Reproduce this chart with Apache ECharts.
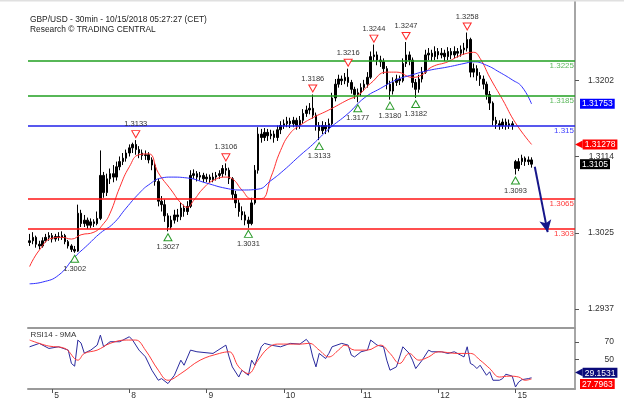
<!DOCTYPE html>
<html><head><meta charset="utf-8">
<script src="https://cdn.jsdelivr.net/npm/echarts@6/dist/echarts.min.js"></script>
<style>html,body{margin:0;padding:0;background:#fff}#c{width:624px;height:417px}</style>
</head><body><div id="c"></div>
<script>
// ---- data (hourly bars, index 0 = Oct 4 17:00) ----
const slotCount = 170;
const dayTickIndex = [7, 31, 55, 79, 103, 127, 151];
const dayLabels = ['5', '8', '9', '10', '11', '12', '15'];
const firstOpen = 1.3014;
const gapIndex = 151;
const gapOpen = 1.3108;
const closes = [
1.3016,1.3020,1.3012,1.3010,1.3016,1.3020,1.3022,1.3018,1.3021,1.3020,
1.3022,1.3015,1.3010,1.3006,1.3004,1.3048,1.3036,1.3040,1.3034,1.3038,
1.3036,1.3042,1.3092,1.3072,1.3088,1.3094,1.3090,1.3102,1.3108,1.3112,
1.3118,1.3124,1.3128,1.3122,1.3118,1.3115,1.3116,1.3110,1.3104,1.3085,
1.3062,1.3058,1.3045,1.3032,1.3040,1.3046,1.3044,1.3054,1.3050,1.3056,
1.3092,1.3094,1.3090,1.3092,1.3088,1.3090,1.3087,1.3090,1.3092,1.3094,
1.3100,1.3098,1.3088,1.3070,1.3060,1.3050,1.3046,1.3040,1.3036,1.3060,
1.3098,1.3140,1.3136,1.3142,1.3138,1.3140,1.3136,1.3145,1.3150,1.3152,
1.3155,1.3152,1.3156,1.3150,1.3156,1.3164,1.3168,1.3170,1.3162,1.3150,
1.3144,1.3150,1.3146,1.3152,1.3182,1.3198,1.3204,1.3202,1.3206,1.3200,
1.3192,1.3186,1.3188,1.3194,1.3198,1.3206,1.3230,1.3232,1.3226,1.3224,
1.3216,1.3198,1.3190,1.3200,1.3204,1.3202,1.3222,1.3232,1.3226,1.3200,
1.3192,1.3204,1.3212,1.3232,1.3234,1.3230,1.3236,1.3232,1.3234,1.3230,
1.3236,1.3232,1.3236,1.3234,1.3238,1.3240,1.3250,1.3212,1.3216,1.3208,
1.3204,1.3198,1.3186,1.3176,1.3156,1.3152,1.3150,1.3154,1.3150,1.3152,
1.3150,1.3100,1.3108,1.3112,1.3108,1.3110,1.3105];
const highs = [
1.3024,1.3026,1.3022,1.3016,1.3020,1.3024,1.3026,1.3025,1.3024,1.3026,
1.3027,1.3024,1.3017,1.3012,1.3010,1.3058,1.3052,1.3046,1.3043,1.3042,
1.3041,1.3050,1.3121,1.3096,1.3094,1.3100,1.3104,1.3108,1.3114,1.3118,
1.3122,1.3128,1.3130,1.3133,1.3126,1.3122,1.3121,1.3119,1.3113,1.3107,
1.3088,1.3068,1.3064,1.3048,1.3045,1.3052,1.3053,1.3060,1.3058,1.3062,
1.3098,1.3099,1.3097,1.3096,1.3095,1.3094,1.3093,1.3095,1.3096,1.3098,
1.3104,1.3106,1.3101,1.3090,1.3074,1.3064,1.3056,1.3050,1.3044,1.3066,
1.3104,1.3148,1.3146,1.3147,1.3146,1.3145,1.3144,1.3150,1.3155,1.3157,
1.3160,1.3159,1.3160,1.3159,1.3161,1.3169,1.3173,1.3176,1.3186,1.3165,
1.3154,1.3155,1.3154,1.3158,1.3188,1.3204,1.3209,1.3208,1.3211,1.3216,
1.3203,1.3195,1.3193,1.3199,1.3203,1.3212,1.3236,1.3244,1.3236,1.3231,
1.3228,1.3219,1.3202,1.3206,1.3209,1.3208,1.3228,1.3247,1.3236,1.3229,
1.3204,1.3209,1.3218,1.3238,1.3240,1.3238,1.3242,1.3240,1.3240,1.3238,
1.3241,1.3240,1.3242,1.3240,1.3243,1.3246,1.3258,1.3252,1.3222,1.3220,
1.3212,1.3208,1.3201,1.3190,1.3178,1.3160,1.3156,1.3158,1.3158,1.3157,
1.3155,1.3110,1.3112,1.3116,1.3114,1.3114,1.3113];
const lows = [
1.3010,1.3012,1.3008,1.3006,1.3008,1.3014,1.3016,1.3014,1.3015,1.3016,
1.3017,1.3012,1.3007,1.3003,1.3002,1.3003,1.3032,1.3032,1.3030,1.3031,
1.3032,1.3034,1.3040,1.3066,1.3068,1.3082,1.3084,1.3086,1.3098,1.3104,
1.3108,1.3114,1.3118,1.3116,1.3112,1.3110,1.3110,1.3106,1.3098,1.3080,
1.3056,1.3050,1.3038,1.3027,1.3029,1.3036,1.3038,1.3040,1.3044,1.3046,
1.3054,1.3088,1.3085,1.3086,1.3084,1.3084,1.3083,1.3084,1.3086,1.3088,
1.3090,1.3092,1.3082,1.3064,1.3054,1.3044,1.3040,1.3034,1.3031,1.3034,
1.3058,1.3094,1.3130,1.3132,1.3132,1.3134,1.3130,1.3132,1.3140,1.3146,
1.3148,1.3147,1.3148,1.3145,1.3146,1.3152,1.3160,1.3163,1.3158,1.3144,
1.3133,1.3140,1.3140,1.3142,1.3150,1.3178,1.3194,1.3197,1.3198,1.3195,
1.3187,1.3181,1.3177,1.3184,1.3190,1.3194,1.3204,1.3225,1.3220,1.3218,
1.3210,1.3192,1.3180,1.3186,1.3196,1.3197,1.3200,1.3218,1.3220,1.3194,
1.3182,1.3188,1.3200,1.3210,1.3226,1.3225,1.3226,1.3227,1.3228,1.3225,
1.3226,1.3227,1.3228,1.3229,1.3230,1.3232,1.3236,1.3206,1.3206,1.3202,
1.3196,1.3192,1.3180,1.3168,1.3150,1.3146,1.3145,1.3146,1.3145,1.3146,
1.3145,1.3093,1.3097,1.3104,1.3103,1.3104,1.3101];

const redMaIdx = [0,3,7,10,13,16,20,23,25,28,31,34,37,40,44,47,49,51,54,57,61,63,66,69,72,75,78,81,84,88,93,99,102,106,111,114,119,122,125,130,133,136,138,140,143,147,151,156];
const redMaVal = [1.2986,1.3005,1.3019,1.3020,1.3018,1.3023,1.3026,1.3036,1.3048,1.3078,1.3102,1.3116,1.3117,1.3095,1.3075,1.3060,1.3055,1.3063,1.3077,1.3086,1.3090,1.3088,1.3075,1.3065,1.3065,1.3090,1.3121,1.3141,1.3150,1.3159,1.3168,1.3180,1.3185,1.3199,1.3212,1.3212,1.3206,1.3209,1.3218,1.3224,1.3230,1.3234,1.3235,1.3228,1.3206,1.3180,1.3153,1.3128];
const blueMaIdx = [0,4,9,14,18,22,26,30,34,37,41,44,49,55,61,66,71,75,79,84,88,93,99,104,109,114,119,124,130,135,138,142,146,150,153,156];
const blueMaVal = [1.2966,1.2968,1.2976,1.2997,1.3011,1.3025,1.3036,1.3054,1.3071,1.3081,1.3089,1.3090,1.3089,1.3083,1.3077,1.3075,1.3076,1.3086,1.3098,1.3115,1.3128,1.3146,1.3164,1.3182,1.3193,1.3203,1.3209,1.3214,1.3218,1.3222,1.3224,1.3220,1.3212,1.3203,1.3195,1.3175];

const rsiIdx = [0,3,6,9,12,13,14,15,16,17,19,21,22,23,25,28,31,32,34,36,38,40,41,43,45,47,48,50,52,57,61,62,63,65,66,68,69,70,72,73,75,78,81,84,86,87,88,89,90,92,93,94,97,99,100,101,103,105,106,108,110,111,112,114,115,116,118,119,120,122,124,125,128,130,132,134,135,136,137,138,139,140,142,143,144,146,147,148,150,151,152,153,155,156];
const rsiVal = [64.6,68.5,62.7,64.6,60.8,45.5,42.4,72.3,68.8,57.3,60.8,66.5,78,64.6,70.4,70.4,76.1,72.3,60.8,53.1,37.8,26.3,28.2,22.5,32,49.3,43.5,60.8,58.9,57,66.5,53,41.6,30,37.8,32,49.3,43.5,64.6,68.5,66.5,64.6,68.5,67.7,73.1,68.5,53,41.6,57,51.2,57,64.6,68.5,66.5,55,53,58.9,60.8,72.3,66.5,64.6,49.3,37.8,41.6,53,64.6,57,49.3,39.7,49.3,60.8,58.9,58.9,57,58.9,55,53,64.6,45.5,43.5,39.7,43.5,32,36,26.3,26.3,28.2,33.2,31,18.6,24.3,27,28.2,29.15];
const rsiMaIdx = [0,3,6,11,15,17,21,25,30,33,36,40,43,47,53,59,62,65,68,71,74,77,84,87,90,93,96,98,101,105,109,112,115,118,121,124,127,133,137,140,143,146,149,152,154,156];
const rsiMaVal = [72.3,68.5,65.4,62.7,49.3,57,60.8,68.5,72.3,72.3,60.8,37.8,26.3,34,49.3,57,58.9,41.6,34,49.3,62.7,67.7,67.7,68.5,60.8,53,60.8,66.5,60.8,60.8,66.5,57,45.5,57,49.3,53,58.9,57,57,49.3,39.7,30,31,30,26.3,27.8];

const priceTicks = [1.2937, 1.3025, 1.3114, 1.3202];
const rsiTicks = [50, 70];
const greenLevels = [1.3225, 1.3185];
const blueLevels = [1.315];
const redLevels = [1.3065, 1.303];
const pivotHighIdx = [33, 61, 88, 99, 107, 117, 136];
const pivotHighVal = [1.3133, 1.3106, 1.3186, 1.3216, 1.3244, 1.3247, 1.3258];
const pivotLowIdx = [14, 43, 68, 90, 102, 112, 120, 151];
const pivotLowVal = [1.3002, 1.3027, 1.3031, 1.3133, 1.3177, 1.3180, 1.3182, 1.3093];
const projectionFrom = [157, 1.3102];
const projectionTo = [161, 1.3026];
const lastClose = 1.3105, lastRedMa = 1.31278, lastBlueMa = 1.31753;
const lastRsi = 29.1531, lastRsiMa = 27.7963;

// ---- build ----
const FONT = 'Liberation Sans, Arial, sans-serif';
const categories = Array.from({length: slotCount}, (_, i) => 'b' + i);
const candleData = closes.map((c, i) => {
  const o = i === 0 ? firstOpen : (i === gapIndex ? gapOpen : closes[i - 1]);
  return [o, c, lows[i], highs[i]];
});
const pairs = (xs, ys) => xs.map((x, k) => [x, ys[k]]);
const dayLabelAt = {};
dayTickIndex.forEach((d, k) => { dayLabelAt[d] = dayLabels[k]; });
const isDay = (i) => dayLabelAt[i] !== undefined;

const levelLine = (v, lineColor, textColor) => ({
  yAxis: v,
  lineStyle: {color: lineColor, width: 1.6, type: 'solid'},
  label: {show: true, position: 'insideEndBottom', formatter: String(v), color: textColor,
          fontSize: 8, fontFamily: FONT, distance: [1, 1]}
});
const valueBox = (v, text, bg, vAlign) => ({
  yAxis: v,
  lineStyle: {color: 'rgba(0,0,0,0)', width: 1, opacity: 1},
  label: {show: true, position: 'end', distance: 5, formatter: text, color: '#fff',
          backgroundColor: bg, padding: [1, 2, 0, 2], fontSize: 8.5, fontFamily: FONT,
          verticalAlign: vAlign || 'middle'}
});
const arrowBox = (v, text, bg, vAlign) => ({
  yAxis: v,
  lineStyle: {color: 'rgba(0,0,0,0)', width: 1, opacity: 1},
  label: {show: true, position: 'end', distance: 0, formatter: '{t|\u25C0}{v|' + text + '}',
          verticalAlign: vAlign || 'middle', fontFamily: FONT,
          rich: {
            t: {color: bg, fontSize: 10, fontFamily: 'DejaVu Sans', padding: [0, 0, 0, 0], lineHeight: 10},
            v: {color: '#fff', backgroundColor: bg, padding: [1, 2, 0, 2], fontSize: 8.5, fontFamily: FONT, lineHeight: 10}
          }}
});
const hiPoint = (x, v) => ({
  coord: [x, v], symbol: 'path://M0,0 L10,0 L5,9 Z', symbolSize: [8, 7], symbolOffset: [0, -6],
  itemStyle: {color: '#fff', borderColor: '#ff2a2a', borderWidth: 1},
  label: {show: true, position: 'top', distance: 2, formatter: v.toFixed(4), color: '#333', fontSize: 7.5, fontFamily: FONT}
});
const loPoint = (x, v) => ({
  coord: [x, v], symbol: 'triangle', symbolSize: [8, 7], symbolOffset: [0, 6],
  itemStyle: {color: '#fff', borderColor: '#2a9a2a', borderWidth: 1},
  label: {show: true, position: 'bottom', distance: 2, formatter: v.toFixed(4), color: '#333', fontSize: 7.5, fontFamily: FONT}
});

const option = {
  animation: false,
  backgroundColor: '#fff',
  textStyle: {fontFamily: FONT},
  title: [
    {text: 'GBP/USD - 30min - 10/15/2018 05:27:27 (CET)', subtext: 'Research \u00A9 TRADING CENTRAL',
     left: 25, top: 10, itemGap: 0,
     textStyle: {fontSize: 8.4, fontWeight: 'normal', color: '#222', fontFamily: FONT, lineHeight: 10},
     subtextStyle: {fontSize: 8.4, color: '#222', fontFamily: FONT, lineHeight: 10}},
    {text: 'RSI14 - 9MA', left: 25.5, top: 325.5,
     textStyle: {fontSize: 8, fontWeight: 'normal', color: '#333', fontFamily: FONT}}
  ],
  graphic: [{type: 'line', shape: {x1: 0, y1: 0.5, x2: 624, y2: 0.5}, style: {stroke: '#e0e0e0', lineWidth: 2}}],
  grid: [
    {left: 28, right: 49, top: 2, height: 325},
    {left: 28, right: 49, top: 328, height: 61}
  ],
  xAxis: [
    {gridIndex: 0, type: 'category', data: categories, boundaryGap: true,
     axisLine: {show: false}, axisTick: {show: false}, axisLabel: {show: false}},
    {gridIndex: 1, type: 'category', data: categories, boundaryGap: true, position: 'bottom',
     axisLine: {show: true, lineStyle: {color: '#9a9a9a', width: 2}},
     axisTick: {show: true, interval: (i) => isDay(i), alignWithLabel: true, length: 4, lineStyle: {color: '#555'}},
     axisLabel: {interval: (i) => isDay(i), formatter: (v, i) => dayLabelAt[i] || '', align: 'left',
                 padding: [0, 0, 0, 2], margin: 2, fontSize: 8.5, color: '#333', fontFamily: FONT}},
    {gridIndex: 1, type: 'category', data: categories, boundaryGap: true, position: 'top',
     axisLine: {show: true, lineStyle: {color: '#9a9a9a', width: 2}}, axisTick: {show: false}, axisLabel: {show: false}}
  ],
  yAxis: [
    {gridIndex: 0, type: 'value', position: 'right', min: 1.29158, max: 1.32935,
     splitLine: {show: false},
     axisLine: {show: true, lineStyle: {color: '#888', width: 1.5}},
     axisTick: {show: true, customValues: priceTicks, length: 4, lineStyle: {color: '#555'}},
     axisLabel: {customValues: priceTicks, formatter: (v) => v.toFixed(4), align: 'right', margin: 39,
                 fontSize: 8.5, color: '#333', fontFamily: FONT}},
    {gridIndex: 1, type: 'value', position: 'right', min: 16.3, max: 86.1,
     splitLine: {show: false},
     axisLine: {show: true, lineStyle: {color: '#888', width: 1.5}},
     axisTick: {show: true, customValues: rsiTicks, length: 4, lineStyle: {color: '#555'}},
     axisLabel: {customValues: rsiTicks, formatter: (v) => String(v), align: 'right', margin: 39,
                 fontSize: 8.5, color: '#333', fontFamily: FONT}}
  ],
  series: [
    {type: 'candlestick', name: 'GBPUSD', xAxisIndex: 0, yAxisIndex: 0, data: candleData, barWidth: 2,
     itemStyle: {color: '#000', color0: '#000', borderColor: '#000', borderColor0: '#000', borderWidth: 1},
     markLine: {silent: true, symbol: 'none', animation: false, precision: 6,
       data: [
         ...greenLevels.map(v => levelLine(v, '#1f9f1f', '#5cb85c')),
         ...blueLevels.map(v => levelLine(v, '#2020e8', '#4040ff')),
         ...redLevels.map(v => levelLine(v, '#ff1414', '#ff3b3b')),
         valueBox(lastClose, '1.3105', '#000'),
         [{coord: projectionFrom, symbol: 'none'},
          {coord: projectionTo, symbol: 'arrow', symbolSize: [9, 12],
           lineStyle: {color: '#16168a', width: 2, type: 'solid'}, label: {show: false}}]
       ]},
     markPoint: {silent: true, animation: false,
       data: [
         ...pivotHighIdx.map((x, k) => hiPoint(x, pivotHighVal[k])),
         ...pivotLowIdx.map((x, k) => loPoint(x, pivotLowVal[k]))
       ]}
    },
    {type: 'line', name: 'MA fast', xAxisIndex: 0, yAxisIndex: 0, data: pairs(redMaIdx, redMaVal),
     smooth: 0.5, showSymbol: false, symbol: 'none', lineStyle: {color: '#ff3030', width: 1}, z: 3,
     markLine: {silent: true, symbol: 'none', precision: 6, data: [arrowBox(lastRedMa, '1.31278', '#ff0000')]}},
    {type: 'line', name: 'MA slow', xAxisIndex: 0, yAxisIndex: 0, data: pairs(blueMaIdx, blueMaVal),
     smooth: 0.5, showSymbol: false, symbol: 'none', lineStyle: {color: '#3030ff', width: 1}, z: 3,
     markLine: {silent: true, symbol: 'none', precision: 6, data: [valueBox(lastBlueMa, '1.31753', '#0000ff')]}},
    {type: 'line', name: 'RSI14', xAxisIndex: 1, yAxisIndex: 1, data: pairs(rsiIdx, rsiVal),
     showSymbol: false, symbol: 'none', lineStyle: {color: '#2a2a9e', width: 1}, z: 3,
     markLine: {silent: true, symbol: 'none', precision: 6, data: [arrowBox(lastRsi, '29.1531', '#0a0a7a', 'bottom')]}},
    {type: 'line', name: '9MA', xAxisIndex: 1, yAxisIndex: 1, data: pairs(rsiMaIdx, rsiMaVal),
     smooth: 0.4, showSymbol: false, symbol: 'none', lineStyle: {color: '#ff3b3b', width: 1}, z: 3,
     markLine: {silent: true, symbol: 'none', precision: 6, data: [valueBox(lastRsiMa, '27.7963', '#ff0000', 'top')]}}
  ]
};
const chart = echarts.init(document.getElementById('c'), null, {renderer: 'canvas'});
chart.setOption(option);
</script>
</body></html>
